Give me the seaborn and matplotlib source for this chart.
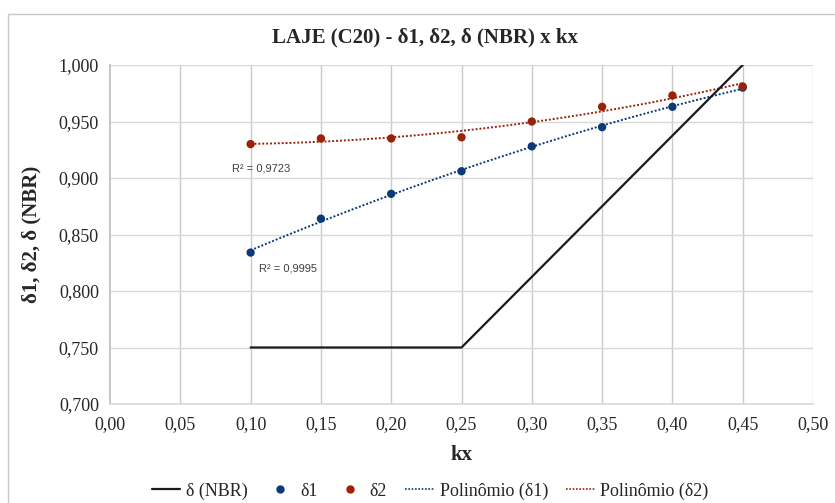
import numpy as np
import pandas as pd
import matplotlib
matplotlib.use("Agg")
import matplotlib.pyplot as plt
import seaborn as sns
from matplotlib.lines import Line2D
from matplotlib.patches import Rectangle

# ---- data ----
kx = [0.10, 0.15, 0.20, 0.25, 0.30, 0.35, 0.40, 0.45]
delta1 = [0.834, 0.864, 0.886, 0.906, 0.928, 0.945, 0.963, 0.980]
delta2 = [0.930, 0.935, 0.935, 0.936, 0.950, 0.963, 0.973, 0.981]
nbr_kx = [0.10, 0.25, 0.45]
nbr_delta = [0.750, 0.750, 1.000]
r2_labels = ["R² = 0,9995", "R² = 0,9723"]
xticks = [0.00, 0.05, 0.10, 0.15, 0.20, 0.25, 0.30, 0.35, 0.40, 0.45, 0.50]
yticks = [0.700, 0.750, 0.800, 0.850, 0.900, 0.950, 1.000]

c1 = "#0b3a77"
c2 = "#9b2107"

sns.set_theme(style="white")
plt.rcParams['font.family'] = ['Liberation Serif', 'DejaVu Serif']

fig = plt.figure(figsize=(8.35, 5.03), dpi=100)
ax = fig.add_axes([110/835, 1-404/503, (813-110)/835, (404-65)/503])

# chart area border
fig.patches.append(Rectangle((8/835, -0.1), 1.2, 1-14/503+0.1, transform=fig.transFigure,
                             fill=False, edgecolor="#c8c8c8", linewidth=1.0, zorder=0))

df1 = pd.DataFrame({"kx": kx, "d": delta1})
df2 = pd.DataFrame({"kx": kx, "d": delta2})
dfn = pd.DataFrame({"kx": nbr_kx, "d": nbr_delta})

# trendlines (2nd order polynomial)
xs = np.linspace(min(kx), max(kx), 100)
p1 = np.polyfit(kx, delta1, 2)
p2 = np.polyfit(kx, delta2, 2)
ax.plot(xs, np.polyval(p1, xs), linestyle=(0, (1, 1)), color=c1, lw=1.4, zorder=3)
ax.plot(xs, np.polyval(p2, xs), linestyle=(0, (1, 1)), color=c2, lw=1.4, zorder=3)

sns.lineplot(data=dfn, x="kx", y="d", ax=ax, color="#1a1a1a", lw=1.6, zorder=4)
sns.scatterplot(data=df1, x="kx", y="d", ax=ax, color=c1, s=36, edgecolor="none", zorder=5)
sns.scatterplot(data=df2, x="kx", y="d", ax=ax, color=c2, s=36, edgecolor="none", zorder=5)

ax.set_xlim(0, 0.5)
ax.set_ylim(0.7, 1.0)
ax.set_xticks(xticks)
ax.set_yticks(yticks)
ax.set_xticklabels([f"{v:.2f}".replace(".", ",") for v in xticks], fontsize=13)
ax.set_yticklabels([f"{v:.3f}".replace(".", ",") for v in yticks], fontsize=13)
ax.tick_params(axis="both", length=0, pad=8)
ax.tick_params(axis="x", pad=9)

ax.grid(False)
for v in xticks[1:]:
    ax.axvline(v, color="#c9c9c9", lw=1.0, zorder=1)
for v in yticks[1:]:
    ax.axhline(v, color="#d9d9d9", lw=1.0, zorder=1)

for s in ["top", "right"]:
    ax.spines[s].set_visible(False)
ax.spines["left"].set_color("#bfbfbf")
ax.spines["bottom"].set_color("#d9d9d9")

ax.set_xlabel("kx", fontsize=15, fontweight="bold", labelpad=8)
ax.set_ylabel("δ1, δ2, δ (NBR)", fontsize=15, fontweight="bold", labelpad=12)
fig.text(0.509, 1-37/503, "LAJE (C20) - δ1, δ2, δ (NBR) x kx", fontsize=15,
         fontweight="bold", ha="center", va="center")

ax.text(0.106, 0.8195, r2_labels[0], fontsize=8, family=["Liberation Sans", "DejaVu Sans"],
        color="#404040", ha="left", va="center")
ax.text(0.0865, 0.9085, r2_labels[1], fontsize=8, family=["Liberation Sans", "DejaVu Sans"],
        color="#404040", ha="left", va="center")

handles = [
    Line2D([], [], color="#1a1a1a", lw=1.6),
    Line2D([], [], color=c1, marker="o", ls="none", markersize=5),
    Line2D([], [], color=c2, marker="o", ls="none", markersize=5),
    Line2D([], [], color=c1, lw=1.2, ls=(0, (1, 1))),
    Line2D([], [], color=c2, lw=1.2, ls=(0, (1, 1))),
]
labels = ["δ (NBR)", "δ1", "δ2", "Polinômio (δ1)", "Polinômio (δ2)"]
fig.legend(handles, labels, loc="center", bbox_to_anchor=(0.515, 1-491/503), ncol=5,
           frameon=False, fontsize=13, handlelength=1.6, columnspacing=1.0, handletextpad=0.3)

fig.savefig("out.png", dpi=100)
